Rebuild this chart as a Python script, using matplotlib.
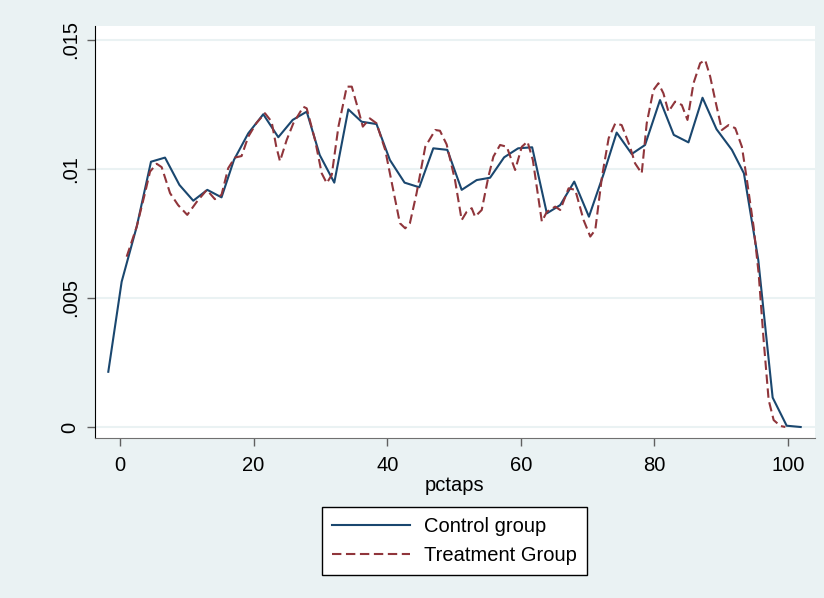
import numpy as np
import matplotlib
matplotlib.use("Agg")
import matplotlib.pyplot as plt

plt.rcParams['font.family'] = ['Liberation Sans', 'DejaVu Sans']

# control group: kdensity evaluated on 50 points
ctrl_x = [-1.75, 0.25, 2.5, 4.64, 6.74, 8.9, 10.97, 13.07, 15.2, 17.06,
          19.2, 21.45, 23.7, 25.85, 27.95, 29.9, 32.08, 34.18, 36.17, 38.4,
          40.4, 42.6, 44.8, 46.9, 49.0, 51.15, 53.4, 55.4, 57.5, 59.6,
          61.7, 63.9, 65.9, 68.0, 70.2, 72.35, 74.35, 76.6, 78.6, 80.84,
          82.9, 85.1, 87.2, 89.3, 91.6, 93.4, 95.55, 97.7, 99.8, 101.9]
ctrl_y = [0.00214, 0.00563, 0.00776, 0.01028, 0.01044, 0.00938, 0.00877, 0.00919, 0.0089, 0.01035,
          0.01138, 0.01212, 0.01123, 0.0119, 0.01222, 0.01054, 0.00947, 0.01231, 0.01183, 0.01174,
          0.01035, 0.00947, 0.00929, 0.0108, 0.01074, 0.00919, 0.00957, 0.00966, 0.01045, 0.0108,
          0.01084, 0.00828, 0.0086, 0.00951, 0.00815, 0.00977, 0.01141, 0.01058, 0.01093, 0.01267,
          0.01132, 0.01103, 0.01276, 0.01154, 0.01074, 0.00983, 0.00647, 0.00114, 0.00005, 0.0]

# treatment group
treat_x = [1.0, 2.5, 3.74, 4.5, 5.5, 6.24, 7.5, 8.7, 10.07, 11.5,
           13.0, 14.2, 15.2, 16.2, 17.2, 18.2, 19.2, 20.4, 21.7, 22.7,
           23.4, 23.95, 24.95, 25.95, 27.45, 27.95, 29.2, 30.2, 30.95, 31.7,
           32.7, 33.95, 34.7, 35.55, 36.35, 37.4, 38.4, 39.7, 40.9, 41.9,
           42.7, 43.4, 44.4, 45.7, 47.2, 47.9, 48.9, 50.15, 51.15, 51.9,
           52.65, 53.15, 54.15, 55.15, 55.9, 56.9, 57.9, 59.15, 60.15, 61.0,
           61.8, 63.15, 63.9, 65.15, 65.9, 67.15, 68.15, 69.4, 70.4, 71.15,
           72.15, 73.15, 74.15, 75.1, 76.35, 77.1, 78.1, 78.85, 79.85, 80.6,
           81.35, 82.1, 83.1, 84.1, 84.95, 85.85, 86.85, 87.6, 88.35, 89.1,
           90.1, 91.1, 92.1, 93.1, 93.85, 94.85, 95.6, 96.35, 97.1, 97.85,
           98.85, 99.6]
treat_y = [0.0066, 0.00776, 0.00906, 0.0099, 0.0102, 0.01007, 0.00906, 0.0086, 0.00822, 0.00873,
           0.00919, 0.00883, 0.009, 0.01003, 0.01044, 0.0105, 0.01125, 0.01177, 0.01216, 0.01183,
           0.01086, 0.01030, 0.01112, 0.01177, 0.01241, 0.01235, 0.01112, 0.00983, 0.00945, 0.00977,
           0.01164, 0.01319, 0.01319, 0.01241, 0.01164, 0.01196, 0.01177, 0.01074, 0.00919, 0.0079,
           0.0077, 0.0079, 0.00906, 0.01086, 0.01151, 0.01148, 0.01095, 0.00957, 0.00802, 0.00834,
           0.00848, 0.00815, 0.00841, 0.0097, 0.01048, 0.01093, 0.01086, 0.00996, 0.01086, 0.01106,
           0.01035, 0.00796, 0.00834, 0.00854, 0.00841, 0.00925, 0.00919, 0.00802, 0.00738, 0.00764,
           0.0097, 0.01119, 0.01177, 0.0117, 0.01086, 0.01022, 0.00983, 0.01177, 0.01306, 0.01332,
           0.01293, 0.01222, 0.01261, 0.01248, 0.0119, 0.01332, 0.0141, 0.01422, 0.01358, 0.01267,
           0.01151, 0.0117, 0.01158, 0.01086, 0.00957, 0.00776, 0.00596, 0.00337, 0.00105, 0.00027,
           0.00004, 0.0]

xticks = [0, 20, 40, 60, 80, 100]
yticks = [0, 0.005, 0.01, 0.015]
ylabels = ['0', '.005', '.01', '.015']

bg = '#eaf2f3'
navy = '#1a476f'
maroon = '#90353b'
fs = 14.5

fig = plt.figure(figsize=(8.24, 5.98), dpi=100, facecolor=bg)
ax = fig.add_axes([95/824, 1-438/598, 720/824, 412/598])
ax.set_facecolor('white')

for v in yticks:
    ax.axhline(v, color=bg, lw=1.5, zorder=0)

l1, = ax.plot(ctrl_x, ctrl_y, color=navy, lw=1.5, label='Control group')
l2, = ax.plot(treat_x, treat_y, color=maroon, lw=1.5, dashes=(4.5, 2.2),
              label='Treatment Group')

ax.set_xlim(-3.74, 104.04)
ax.set_ylim(-0.000426, 0.01554)
ax.set_xticks(xticks)
ax.set_xticklabels([str(t) for t in xticks])
ax.set_yticks(yticks)
ax.set_yticklabels(ylabels, rotation=90, va='center')

for s in ['top', 'right']:
    ax.spines[s].set_visible(False)
ax.spines['left'].set_color('black')
ax.spines['bottom'].set_color('#707070')
ax.tick_params(axis='both', direction='out', length=6, width=1, color='#606060',
               labelsize=fs)
ax.tick_params(axis='x', pad=7)
ax.tick_params(axis='y', pad=5)

ax.set_xlabel('pctaps', fontsize=fs, labelpad=1)

leg = fig.legend(handles=[l1, l2], loc='center',
                 bbox_to_anchor=(454.5/824, 1-541/598),
                 fontsize=fs, frameon=True, fancybox=False, framealpha=1,
                 facecolor='white', edgecolor='black', handlelength=3.9,
                 borderpad=0.5, labelspacing=0.5, handletextpad=0.7)
leg.get_frame().set_linewidth(1.0)

fig.savefig('out.png', dpi=100, facecolor=bg)
